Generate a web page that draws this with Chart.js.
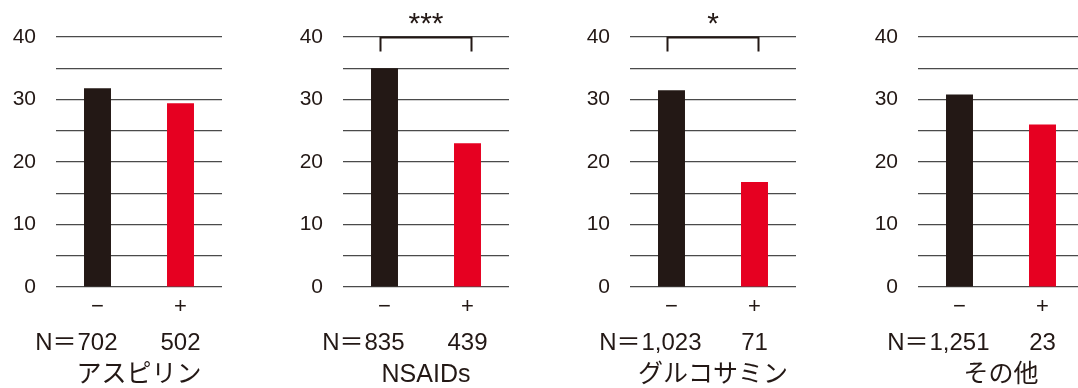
<!DOCTYPE html>
<html>
<head>
<meta charset="utf-8">
<script src="https://cdn.jsdelivr.net/npm/chart.js@4"></script>
<style>
  html, body { margin: 0; padding: 0; background: #fff; overflow: hidden; width: 1078px; height: 388px; }
  .panel { position: absolute; top: 0; width: 222px; height: 388px; }
</style>
</head>
<body>
<script>
// Medication groups and the share (%) in users (+) and non-users (−)
const groups = ['アスピリン', 'NSAIDs', 'グルコサミン', 'その他'];
const useLabels = ['−', '+'];
const rateWithout = [31.8, 35.0, 31.5, 30.8];
const rateWith = [29.4, 23.0, 16.8, 26.0];
const nWithout = ['702', '835', '1,023', '1,251'];
const nWith = ['502', '439', '71', '23'];
const marks = ['', '***', '*', ''];
const yTickLabels = [0, 10, 20, 30, 40];

const INK = '#231815';
const RED = '#e60021';
const panelLeft = [0, 287, 574, 862];
const LATIN = '"Liberation Sans", Arial, "Noto Sans CJK JP", sans-serif';

// Draws the N row, the group name and the significance bracket for a panel
const panelText = {
  id: 'panelText',
  afterDraw(chart, args, opts) {
    const i = opts.index;
    const ctx = chart.ctx;
    const xs = chart.scales.x, ys = chart.scales.y;
    const x0 = xs.getPixelForValue(0), x1 = xs.getPixelForValue(1);
    ctx.save();
    ctx.fillStyle = INK;

    ctx.font = '24px ' + LATIN;
    ctx.textBaseline = 'alphabetic';
    ctx.textAlign = 'center';
    const nY = ys.bottom + 63;
    ctx.fillText(nWithout[i], x0, nY);
    ctx.fillText(nWith[i], x1, nY);
    const w = ctx.measureText(nWithout[i]).width;
    ctx.textAlign = 'right';
    ctx.fillText('N＝', x0 - w / 2 - 1, nY);

    ctx.font = '25px ' + LATIN;
    ctx.textAlign = 'center';
    ctx.textBaseline = 'middle';
    ctx.fillText(groups[i], (xs.left + xs.right) / 2, ys.bottom + 88);

    if (marks[i]) {
      const top = Math.round(ys.getPixelForValue(40)) + 0.5;
      ctx.strokeStyle = INK;
      ctx.lineWidth = 2;
      ctx.beginPath();
      ctx.moveTo(x0 - 4, top + 14);
      ctx.lineTo(x0 - 4, top);
      ctx.lineTo(x1 + 4, top);
      ctx.lineTo(x1 + 4, top + 14);
      ctx.stroke();

      ctx.font = '30px "Liberation Sans", Arial, sans-serif';
      ctx.textAlign = 'center';
      ctx.textBaseline = 'alphabetic';
      const s = marks[i];
      const m = ctx.measureText(s);
      const cy = top - 19;
      const base = cy + (m.actualBoundingBoxAscent - m.actualBoundingBoxDescent) / 2;
      ctx.fillText(s, (x0 + x1) / 2, base);
    }
    ctx.restore();
  }
};

groups.forEach((g, i) => {
  const div = document.createElement('div');
  div.className = 'panel';
  div.style.left = panelLeft[i] + 'px';
  const cv = document.createElement('canvas');
  cv.width = 222; cv.height = 388;
  div.appendChild(cv);
  document.body.appendChild(div);

  new Chart(cv, {
    type: 'bar',
    data: {
      labels: useLabels,
      datasets: [{
        data: [rateWithout[i], rateWith[i]],
        backgroundColor: [INK, RED],
        borderWidth: 0,
        barPercentage: 0.325,
        categoryPercentage: 1
      }]
    },
    options: {
      responsive: false,
      animation: false,
      layout: { padding: { top: 37, left: 0, right: 0, bottom: 0 } },
      plugins: {
        legend: { display: false },
        tooltip: { enabled: false },
        panelText: { index: i }
      },
      scales: {
        x: {
          type: 'category',
          grid: { display: false, drawTicks: false },
          border: { display: false },
          ticks: { color: INK, font: { family: LATIN, size: 22 }, padding: 7, maxRotation: 0 },
          afterFit(scale) { scale.height = 101; }
        },
        y: {
          min: 0, max: 40,
          grid: { color: '#4a4a4a', lineWidth: 1.2, drawTicks: false },
          border: { display: false },
          ticks: {
            stepSize: 5,
            color: INK,
            padding: 20,
            font: { family: LATIN, size: 21 },
            callback: v => yTickLabels.includes(v) ? String(v) : ''
          },
          afterFit(scale) { scale.width = 56; }
        }
      }
    },
    plugins: [panelText]
  });
});
</script>
</body>
</html>
